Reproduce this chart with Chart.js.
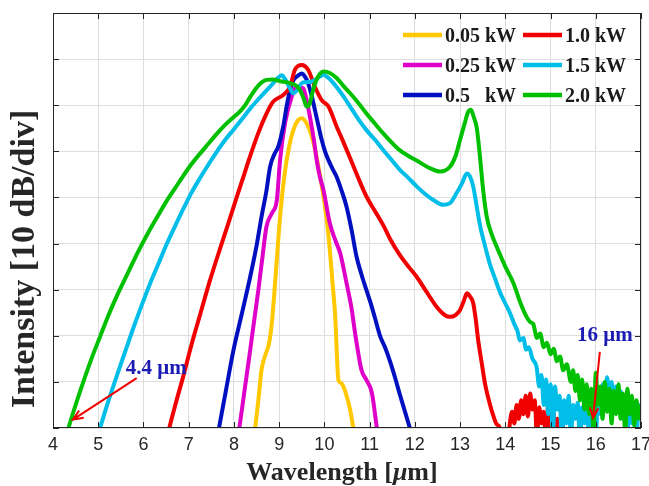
<!DOCTYPE html>
<html>
<head>
<meta charset="utf-8">
<script src="https://cdn.jsdelivr.net/npm/chart.js@4.4.1/dist/chart.umd.min.js"></script>
<style>
  html, body { margin: 0; padding: 0; background: #fff; }
  #wrap { width: 649px; height: 486px; }
</style>
</head>
<body>
<div id="wrap"><canvas id="spec" width="649" height="486"></canvas></div>
<script>
// wavelength axis ticks (um) and intensity divisions (10 dB each)
const xTicks = [4, 5, 6, 7, 8, 9, 10, 11, 12, 13, 14, 15, 16, 17];
const yDivs = [0, 1, 2, 3, 4, 5, 6, 7, 8, 9];

const powers = ["0.05 kW", "0.25 kW", "0.5   kW", "1.0 kW", "1.5 kW", "2.0 kW"];
const colors = ["#FFC800", "#DE00C8", "#0010C0", "#F00000", "#00BEE8", "#00C000"];

// 0.05 kW
const wl005 = [8.47, 8.54, 8.61, 8.70, 8.78, 8.84, 8.91, 9.02, 9.12, 9.22, 9.32, 9.42, 9.50, 9.58, 9.68, 9.78, 9.88, 9.98, 10.06, 10.12, 10.18, 10.24, 10.31, 10.36, 10.42, 10.49, 10.57, 10.64];
const int005 = [0, 0.6, 1.26, 1.6, 1.85, 2.3, 3.14, 4.58, 5.5, 6.1, 6.48, 6.68, 6.72, 6.65, 6.45, 6.1, 5.6, 5.02, 4.45, 3.86, 3.15, 2.41, 1.04, 0.98, 0.9, 0.7, 0.39, 0];

// 0.25 kW
const wl025 = [8.12, 8.24, 8.36, 8.45, 8.54, 8.63, 8.72, 8.84, 8.95, 9.02, 9.13, 9.28, 9.39, 9.53, 9.61, 9.68, 9.76, 9.83, 9.90, 9.98, 10.12, 10.25, 10.35, 10.49, 10.60, 10.68, 10.82, 10.93, 11.05, 11.16];
const int025 = [0, 0.85, 1.69, 2.35, 2.99, 3.7, 4.37, 4.66, 4.95, 5.81, 6.61, 7.19, 7.40, 7.37, 7.1, 6.75, 6.3, 5.81, 5.45, 5.16, 4.44, 4.05, 3.79, 3.14, 2.6, 2.05, 1.26, 1.04, 0.76, 0];

// 0.5 kW
const wl05 = [7.67, 7.83, 7.99, 8.18, 8.36, 8.50, 8.61, 8.72, 8.80, 8.90, 8.98, 9.09, 9.17, 9.24, 9.32, 9.39, 9.50, 9.57, 9.64, 9.72, 9.79, 9.87, 9.94, 10.02, 10.09, 10.18, 10.27, 10.38, 10.49, 10.60, 10.71, 10.82, 10.93, 11.01, 11.12, 11.23, 11.34, 11.45, 11.56, 11.67, 11.78, 11.89];
const int05 = [0, 0.85, 1.69, 2.5, 3.28, 3.95, 4.58, 5.15, 5.67, 5.95, 6.10, 6.54, 7.0, 7.33, 7.55, 7.62, 7.69, 7.62, 7.48, 7.2, 6.90, 6.55, 6.25, 5.98, 5.81, 5.62, 5.45, 5.15, 4.80, 4.3, 3.72, 3.33, 2.99, 2.75, 2.38, 2.0, 1.75, 1.45, 1.1, 0.72, 0.36, 0];

// 1.0 kW
const wl10 = [6.57, 6.72, 6.88, 7.06, 7.25, 7.47, 7.69, 7.88, 8.06, 8.22, 8.36, 8.54, 8.72, 8.87, 9.09, 9.24, 9.35, 9.50, 9.64, 9.79, 9.94, 10.09, 10.27, 10.42, 10.57, 10.75, 10.93, 11.12, 11.30, 11.48, 11.67, 11.86, 12.04, 12.26, 12.48, 12.66, 12.78, 12.90, 13.00, 13.08, 13.15, 13.22, 13.29, 13.34, 13.40, 13.48, 13.55, 13.65, 13.74, 13.81, 13.88,
  13.95, 14.05, 14.10, 14.15, 14.20, 14.25, 14.30, 14.35, 14.40, 14.45, 14.50, 14.55, 14.60, 14.65, 14.70, 14.75, 14.80, 14.85, 14.90, 14.95, 15.00, 15.05, 15.10, 15.15, 15.20, 15.25, 15.30, 15.40, 15.50];
const int10 = [0, 0.56, 1.12, 1.8, 2.45, 3.2, 3.88, 4.45, 5.0, 5.48, 5.9, 6.4, 6.82, 7.08, 7.22, 7.40, 7.77, 7.87, 7.77, 7.40, 7.11, 6.97, 6.54, 6.2, 5.85, 5.42, 5.02, 4.7, 4.4, 4.05, 3.75, 3.5, 3.28, 2.95, 2.63, 2.45, 2.41, 2.45, 2.56, 2.75, 2.92, 2.85, 2.71, 2.4, 1.91, 1.4, 0.97, 0.55, 0.25, 0.08, 0,
  -0.6, -0.4, 0.1, 0.35, 0.1, 0.5, 0.2, 0.6, 0.3, 0.7, 0.25, 0.75, 0.4, 0.6, -0.2, 0.45, 0.1, 0.35, -0.3, 0.55, -0.1, 0.5, -0.3, 0.2, -0.3, 0.3, -0.4, -0.6, -1];

// 1.5 kW
const wl15 = [5.04, 5.22, 5.41, 5.60, 5.78, 5.96, 6.14, 6.33, 6.51, 6.70, 6.88, 7.06, 7.25, 7.44, 7.62, 7.80, 7.99, 8.18, 8.36, 8.54, 8.72, 8.87, 8.98, 9.06, 9.14, 9.22, 9.31, 9.40, 9.50, 9.60, 9.70, 9.80, 9.90, 9.98, 10.08, 10.20, 10.38, 10.57, 10.75, 10.93, 11.12, 11.30, 11.48, 11.67, 11.86, 12.04, 12.22, 12.40, 12.63, 12.78, 12.92, 13.04, 13.15, 13.22, 13.29, 13.36, 13.44, 13.55, 13.66, 13.77, 13.88, 14.00, 14.10, 14.20, 14.27, 14.32, 14.40, 14.46, 14.52, 14.60, 14.69,
  14.75, 14.80, 14.85, 14.90, 14.95, 15.00, 15.05, 15.10, 15.15, 15.20, 15.25, 15.30, 15.35, 15.40, 15.45, 15.50, 15.55, 15.60, 15.65, 15.70, 15.75, 15.80, 15.85, 15.90, 15.95, 16.00, 16.05, 16.10, 16.15, 16.20, 16.25, 16.30, 16.35, 16.40, 16.45, 16.50, 16.55, 16.60, 16.65, 16.70, 16.75, 16.80, 16.85, 16.90, 16.95, 17.00];
const int15 = [0, 0.57, 1.13, 1.67, 2.18, 2.66, 3.12, 3.56, 3.98, 4.38, 4.75, 5.1, 5.42, 5.72, 5.99, 6.24, 6.47, 6.7, 6.93, 7.13, 7.32, 7.48, 7.6, 7.65, 7.55, 7.4, 7.26, 7.33, 7.48, 7.5, 7.51, 7.55, 7.62, 7.66, 7.6, 7.48, 7.25, 6.97, 6.7, 6.46, 6.25, 6.03, 5.82, 5.6, 5.42, 5.24, 5.08, 4.95, 4.84, 4.88, 5.09, 5.3, 5.52, 5.45, 5.24, 4.85, 4.40, 3.95, 3.55, 3.25, 2.95, 2.7, 2.5, 2.25, 2.1, 1.9, 1.95, 1.7, 1.75, 1.5, 1.33,
  0.9, 1.15, 0.5, 1.05, 0.3, 0.95, -0.2, 0.9, 0.4, 0.7, -0.3, 0.6, 0.1, 0.7, -0.2, 0.5, 0.2, 0.55, -0.3, 0.45, 0.1, 0.5, -0.2, 0.4, 0.6, -0.2, 0.7, 0.3, 0.95, 0.6, 1.1, 0.7, 1.0, 0.55, 0.9, 0.4, 0.8, 0.2, 0.6, -0.1, 0.5, 0.1, 0.45, -0.2, 0.5, 0.3];

// 2.0 kW
const wl20 = [4.34, 4.50, 4.67, 4.85, 5.04, 5.22, 5.41, 5.60, 5.78, 5.96, 6.14, 6.33, 6.51, 6.70, 6.88, 7.06, 7.25, 7.44, 7.62, 7.80, 7.99, 8.13, 8.25, 8.36, 8.50, 8.62, 8.72, 8.85, 9.02, 9.24, 9.38, 9.46, 9.54, 9.61, 9.68, 9.75, 9.85, 9.98, 10.12, 10.27, 10.42, 10.57, 10.75, 10.93, 11.12, 11.30, 11.48, 11.67, 11.86, 12.04, 12.30, 12.56, 12.78, 12.90, 13.00, 13.10, 13.18, 13.24, 13.30, 13.37, 13.44, 13.51, 13.59, 13.70, 13.81, 14.00, 14.18, 14.32, 14.47, 14.55, 14.62, 14.70, 14.77, 14.85, 14.92, 15.00, 15.07, 15.14, 15.21, 15.28, 15.36,
  15.45, 15.50, 15.55, 15.60, 15.65, 15.70, 15.75, 15.80, 15.85, 15.90, 15.95, 16.00, 16.05, 16.10, 16.15, 16.20, 16.25, 16.30, 16.35, 16.40, 16.45, 16.50, 16.55, 16.60, 16.65, 16.70, 16.75, 16.80, 16.85, 16.90, 16.95, 17.00];
const int20 = [0, 0.5, 1.0, 1.5, 1.98, 2.43, 2.86, 3.25, 3.62, 3.97, 4.3, 4.62, 4.92, 5.2, 5.47, 5.72, 5.95, 6.17, 6.38, 6.57, 6.74, 6.86, 7.0, 7.18, 7.38, 7.5, 7.55, 7.56, 7.52, 7.48, 7.42, 7.33, 7.15, 6.97, 7.05, 7.33, 7.6, 7.73, 7.7, 7.59, 7.42, 7.26, 7.05, 6.82, 6.6, 6.39, 6.2, 6.02, 5.9, 5.8, 5.65, 5.56, 5.67, 5.9, 6.25, 6.6, 6.86, 6.9, 6.75, 6.5, 5.88, 5.16, 4.58, 4.2, 3.93, 3.5, 3.14, 2.75, 2.41, 2.3, 2.25, 1.95, 2.05, 1.75, 1.85, 1.6, 1.72, 1.45, 1.55, 1.25, 1.38,
  1.0, 1.25, 0.8, 1.15, 0.6, 1.05, 0.4, 0.95, 0.3, 0.85, -0.1, 1.2, 0.5, 0.9, 0.2, 1.0, 0.35, 0.85, 0.1, 0.8, 0.3, 0.95, 0.2, 0.75, -0.1, 0.85, 0.3, 0.7, 0.05, 0.6, 0.2, 0.5];

// text callouts and their arrows, in axis units
const noteText = ["4.4 \u03bcm", "16 \u03bcm"];
const noteAt = [[5.61, 1.18], [15.585, 1.89]];
const arrowFrom = [[5.85, 1.08], [16.09, 1.65]];
const arrowTo = [[4.44, 0.18], [15.94, 0.22]];

const series = [[wl005, int005], [wl025, int025], [wl05, int05], [wl10, int10], [wl15, int15], [wl20, int20]];

const serif = "'Liberation Serif', 'Times New Roman', serif";
const sans = "'Liberation Sans', Arial, sans-serif";
const ink = "#262626";

const datasets = series.map(([wl, val], i) => ({
  label: powers[i],
  data: wl.map((x, k) => ({ x, y: val[k] })),
  borderColor: colors[i],
  borderWidth: 4,
  pointRadius: 0,
  cubicInterpolationMode: "monotone",
  clip: 0,
  order: series.length - i,
}));

const decor = {
  id: "decor",
  afterDraw(chart) {
    const { ctx, chartArea: a, scales } = chart;
    const xs = scales.x, ys = scales.y;
    const px = (x) => xs.getPixelForValue(x);
    const py = (y) => ys.getPixelForValue(y);
    ctx.save();

    // box and inward ticks
    ctx.strokeStyle = ink;
    ctx.lineWidth = 1;
    ctx.strokeRect(a.left + 0.5, a.top + 0.5, a.right - a.left - 1, a.bottom - a.top - 1);
    ctx.beginPath();
    xTicks.forEach((t) => {
      const x = Math.round(px(t)) + 0.5;
      ctx.moveTo(x, a.bottom); ctx.lineTo(x, a.bottom - 6);
      ctx.moveTo(x, a.top); ctx.lineTo(x, a.top + 6);
    });
    yDivs.forEach((t) => {
      const y = Math.round(py(t)) + 0.5;
      ctx.moveTo(a.left, y); ctx.lineTo(a.left + 6, y);
      ctx.moveTo(a.right, y); ctx.lineTo(a.right - 6, y);
    });
    ctx.stroke();

    // axis titles
    ctx.fillStyle = ink;
    ctx.textBaseline = "alphabetic";
    const parts = [["Wavelength [", "bold 26px " + serif], ["\u03bc", "italic bold 26px " + serif], ["m]", "bold 26px " + serif]];
    let w = 0;
    parts.forEach(([t, f]) => { ctx.font = f; w += ctx.measureText(t).width; });
    let cx = 342 - w / 2;
    parts.forEach(([t, f]) => {
      ctx.font = f;
      ctx.textAlign = "left";
      ctx.fillText(t, cx, 480);
      cx += ctx.measureText(t).width;
    });
    ctx.save();
    ctx.translate(34, 259);
    ctx.rotate(-Math.PI / 2);
    ctx.font = "bold 34px " + serif;
    ctx.textAlign = "center";
    ctx.fillText("Intensity [10 dB/div]", 0, 0);
    ctx.restore();

    // legend, two columns
    ctx.font = "bold 20px " + serif;
    ctx.textAlign = "left";
    powers.forEach((p, i) => {
      const col = Math.floor(i / 3), row = i % 3;
      const x0 = 403 + col * 120, y0 = 35 + row * 30;
      ctx.strokeStyle = colors[i];
      ctx.lineWidth = 4.5;
      ctx.beginPath();
      ctx.moveTo(x0, y0); ctx.lineTo(x0 + 39, y0);
      ctx.stroke();
      ctx.fillStyle = "#1a1a1a";
      ctx.fillText(p, x0 + 42, y0 + 7);
    });

    // callouts
    ctx.strokeStyle = "#F00000";
    ctx.lineWidth = 2;
    arrowFrom.forEach((f, i) => {
      const x1 = px(f[0]), y1 = py(f[1]);
      const x2 = px(arrowTo[i][0]), y2 = py(arrowTo[i][1]);
      const ang = Math.atan2(y2 - y1, x2 - x1);
      ctx.beginPath();
      ctx.moveTo(x1, y1); ctx.lineTo(x2, y2);
      ctx.moveTo(x2 - 11 * Math.cos(ang - 0.4), y2 - 11 * Math.sin(ang - 0.4));
      ctx.lineTo(x2, y2);
      ctx.lineTo(x2 - 11 * Math.cos(ang + 0.4), y2 - 11 * Math.sin(ang + 0.4));
      ctx.stroke();
    });
    ctx.fillStyle = "#1c1cb4";
    ctx.font = "bold 21px " + serif;
    noteText.forEach((t, i) => {
      ctx.fillText(t, px(noteAt[i][0]), py(noteAt[i][1]));
    });
    ctx.restore();
  },
};

new Chart(document.getElementById("spec"), {
  type: "line",
  data: { datasets },
  options: {
    responsive: false,
    animation: false,
    devicePixelRatio: 1,
    layout: { padding: { left: 0, right: 8, top: 13, bottom: 0 } },
    plugins: { legend: { display: false }, tooltip: { enabled: false } },
    scales: {
      x: {
        type: "linear",
        min: 4,
        max: 17,
        afterBuildTicks: (s) => { s.ticks = xTicks.map((v) => ({ value: v })); },
        afterFit: (s) => { s.height = 58; s.paddingLeft = 0; s.paddingRight = 0; },
        ticks: { autoSkip: false, maxRotation: 0, padding: 6, color: ink, font: { family: sans, size: 18 } },
        grid: { color: "#dedede", drawTicks: false },
        border: { display: false },
      },
      y: {
        min: 0,
        max: 9,
        afterBuildTicks: (s) => { s.ticks = yDivs.map((v) => ({ value: v })); },
        afterFit: (s) => { s.width = 53; },
        ticks: { display: false },
        grid: { color: "#dedede", drawTicks: false },
        border: { display: false },
      },
    },
  },
  plugins: [decor],
});
</script>
</body>
</html>
